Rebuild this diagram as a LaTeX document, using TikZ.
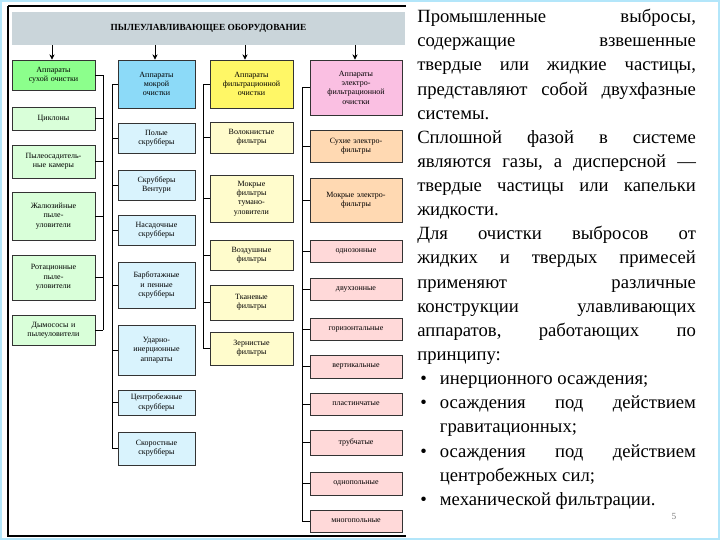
\documentclass[tikz,border=0pt]{standalone}
\usepackage{fontspec}
\setmainfont{Liberation Serif}
\usetikzlibrary{arrows.meta}
\begin{document}
\begin{tikzpicture}[x=0.75pt,y=-0.75pt,
  bx/.style={draw=black!80,line width=0.5pt,align=center,inner sep=1pt,font=\fontsize{6}{7}\selectfont},
  bus/.style={draw=black,line width=0.6pt},
  arr/.style={-{Stealth[length=4pt,width=4pt]},line width=0.6pt}]
\useasboundingbox (0,0) rectangle (720,540);
\fill[white] (0,0) rectangle (720,540);
\draw[cyan!30,line width=1pt] (1,1) rectangle (719,539);
\draw[black,line width=0.8pt] (8,6) -- (406,6) (8,6) -- (8,536) -- (406,536);
\newcommand\bxx[7]{\node[bx,fill=#6,minimum width={(#4-#2)*0.75pt},minimum height={(#5-#3)*0.75pt},text width={(#4-#2)*0.75pt-2pt}] (#1) at ({(#2+#4)/2},{(#3+#5)/2}) {#7};}
\node[fill=cyan!20!gray!40,minimum width={393*0.75pt},minimum height={33*0.75pt},font=\fontsize{7}{8}\selectfont\bfseries] (t) at (208.5,28.5) {ПЫЛЕУЛАВЛИВАЮЩЕЕ ОБОРУДОВАНИЕ};
% column 1
\bxx{a0}{12}{60}{95}{90}{green!45}{Аппараты\\сухой очистки}
\bxx{a1}{12}{107}{95}{130}{green!15}{Циклоны}
\bxx{a2}{12}{145}{95}{178}{green!15}{Пылеосадитель-\\ные камеры}
\bxx{a3}{12}{192}{95}{240}{green!15}{Жалюзийные\\пыле-\\уловители}
\bxx{a4}{12}{255}{95}{300}{green!15}{Ротационные\\пыле-\\уловители}
\bxx{a5}{12}{315}{95}{345}{green!15}{Дымососы и\\пылеуловители}
% column 2
\bxx{b0}{118}{60}{195}{108}{cyan!45}{Аппараты\\мокрой\\очистки}
\bxx{b1}{118}{123}{195}{153}{cyan!15}{Полые\\скрубберы}
\bxx{b2}{118}{170}{195}{200}{cyan!15}{Скрубберы\\Вентури}
\bxx{b3}{118}{215}{195}{245}{cyan!15}{Насадочные\\скрубберы}
\bxx{b4}{118}{262}{195}{308}{cyan!15}{Барботажные\\и пенные\\скрубберы}
\bxx{b5}{118}{325}{195}{375}{cyan!15}{Ударно-\\инерционные\\аппараты}
\bxx{b6}{118}{390}{195}{415}{cyan!15}{Центробежные\\скрубберы}
\bxx{b7}{118}{432}{195}{465}{cyan!15}{Скоростные\\скрубберы}
% column 3
\bxx{c0}{210}{60}{293}{108}{yellow!60}{Аппараты\\фильтрационной\\очистки}
\bxx{c1}{210}{122}{293}{153}{yellow!20}{Волокнистые\\фильтры}
\bxx{c2}{210}{175}{293}{222}{yellow!20}{Мокрые\\фильтры\\тумано-\\уловители}
\bxx{c3}{210}{240}{293}{270}{yellow!20}{Воздушные\\фильтры}
\bxx{c4}{210}{285}{293}{320}{yellow!20}{Тканевые\\фильтры}
\bxx{c5}{210}{332}{293}{365}{yellow!20}{Зернистые\\фильтры}
% column 4
\bxx{d0}{310}{60}{402}{115}{magenta!25}{Аппараты\\электро-\\фильтрационной\\очистки}
\bxx{d1}{310}{130}{402}{162}{orange!30}{Сухие электро-\\фильтры}
\bxx{d2}{310}{178}{402}{222}{orange!30}{Мокрые электро-\\фильтры}
\bxx{d3}{310}{240}{402}{262}{red!15}{однозонные}
\bxx{d4}{310}{278}{402}{300}{red!15}{двухзонные}
\bxx{d5}{310}{318}{402}{340}{red!15}{горизонтальные}
\bxx{d6}{310}{355}{402}{378}{red!15}{вертикальные}
\bxx{d7}{310}{393}{402}{415}{red!15}{пластинчатые}
\bxx{d8}{310}{430}{402}{455}{red!15}{трубчатые}
\bxx{d9}{310}{472}{402}{495}{red!15}{однопольные}
\bxx{d10}{310}{510}{402}{532}{red!15}{многопольные}
% arrows
\foreach \h/\x in {a0/52,b0/155,c0/245,d0/355}
  \draw[arr] (\x,45) -- (\h.north -| \x,0);
% buses
\coordinate (ba) at (103,0); \coordinate (bb) at (112,0);
\coordinate (bc) at (203,0); \coordinate (bd) at (302,0);
\draw[bus] (a0.east) -- (a0.east -| ba) -- (a5.east -| ba);
\foreach \n in {a1,a2,a3,a4,a5} \draw[bus] (\n.east) -- (\n.east -| ba);
\draw[bus] (b0.west) -- (b0.west -| bb) -- (b7.west -| bb);
\foreach \n in {b1,b2,b3,b4,b5,b6,b7} \draw[bus] (\n.west) -- (\n.west -| bb);
\draw[bus] (c0.west) -- (c0.west -| bc) -- (c5.west -| bc);
\foreach \n in {c1,c2,c3,c4,c5} \draw[bus] (\n.west) -- (\n.west -| bc);
\draw[bus] (d0.west) -- (d0.west -| bd) -- (d10.west -| bd);
\foreach \n in {d1,d2,d3,d4,d5,d6,d7,d8,d9,d10} \draw[bus] (\n.west) -- (\n.west -| bd);
% text
\node[anchor=north west,text width=209pt,align=justify,inner sep=0pt,font=\fontsize{14}{18.1}\selectfont\frenchspacing] (txt) at (417,9) {%
Промышленные выбросы,\linebreak содержащие взвешенные\linebreak твердые или жидкие частицы,\linebreak представляют собой двухфазные\linebreak системы.\par
Сплошной фазой в системе\linebreak являются газы, а дисперсной~---\linebreak твердые частицы или капельки\linebreak жидкости.\par
Для очистки выбросов от\linebreak жидких и твердых примесей\linebreak применяют различные\linebreak конструкции улавливающих\linebreak аппаратов, работающих по\linebreak принципу:\par
\hangindent=17pt\hangafter=1 \makebox[17pt][l]{\,•}инерционного осаждения;\par
\hangindent=17pt\hangafter=1 \makebox[17pt][l]{\,•}осаждения под действием\linebreak гравитационных;\par
\hangindent=17pt\hangafter=1 \makebox[17pt][l]{\,•}осаждения под действием\linebreak центробежных сил;\par
\hangindent=17pt\hangafter=1 \makebox[17pt][l]{\,•}механической фильтрации.};
\node[font=\fontsize{7}{8}\selectfont,text=gray] (pg) at (674,516) {5};
\end{tikzpicture}
\end{document}
